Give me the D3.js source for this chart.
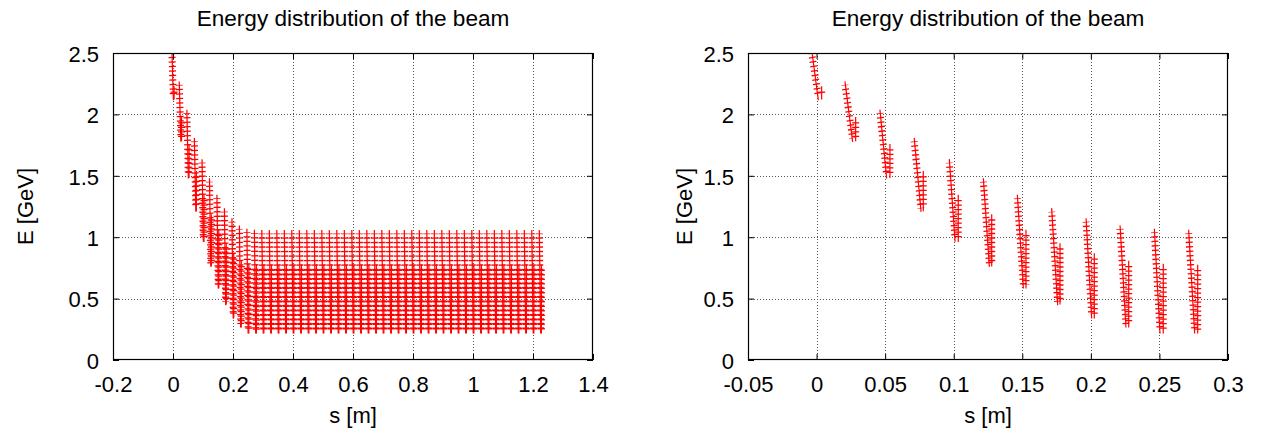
<!DOCTYPE html>
<html>
<head>
<meta charset="utf-8">
<script src="https://cdn.jsdelivr.net/npm/d3@7.9.0/dist/d3.min.js"></script>
<style>
  body { margin: 0; background: #fff; }
  svg { display: block; font-family: "Liberation Sans", Arial, sans-serif; }
</style>
</head>
<body>
<svg id="chart" width="1261" height="429"></svg>
<script>
// Axis ticks and labels
const yTicks = [0, 0.5, 1, 1.5, 2, 2.5];
const yTickLabels = ["0", "0.5", "1", "1.5", "2", "2.5"];
const leftXTicks = [-0.2, 0, 0.2, 0.4, 0.6, 0.8, 1, 1.2, 1.4];
const leftXTickLabels = ["-0.2", "0", "0.2", "0.4", "0.6", "0.8", "1", "1.2", "1.4"];
const rightXTicks = [-0.05, 0, 0.05, 0.1, 0.15, 0.2, 0.25, 0.3];
const rightXTickLabels = ["-0.05", "0", "0.05", "0.1", "0.15", "0.2", "0.25", "0.3"];

// First bunches: each one is a main streak (top -> bottom) plus a short second streak
const earlyTopS = [-0.0036, 0.0207, 0.0462, 0.0712, 0.0968, 0.1216, 0.1464, 0.1714, 0.1965, 0.2213, 0.2463, 0.2713];
const earlyTopE = [2.50, 2.24, 2.01, 1.78, 1.607, 1.452, 1.317, 1.208, 1.126, 1.067, 1.04, 1.032];
const earlyBotS = [0.0013, 0.0263, 0.0511, 0.0762, 0.1010, 0.1260, 0.1508, 0.1758, 0.2006, 0.2256, 0.2504, 0.2757];
const earlyBotE = [2.144, 1.805, 1.506, 1.235, 0.991, 0.787, 0.611, 0.475, 0.366, 0.293, 0.244, 0.244];
const earlySecS = [0.0037, 0.0285, 0.0535, 0.0778, 0.1033, 0.1277, 0.1527, 0.1775, 0.2025, 0.2276, 0.2528, 0.2779];
const earlySecTopE = [2.20, 1.95, 1.73, 1.51, 1.317, 1.159, 1.032, 0.923, 0.841, 0.779, 0.755, 0.747];
const earlySecBotE = [2.15, 1.81, 1.51, 1.24, 0.99, 0.79, 0.61, 0.48, 0.366, 0.293, 0.244, 0.244];

// Later bunches (left panel only) all keep the same shape
const steadyPos = [0.3, 0.325, 0.35, 0.375, 0.4, 0.425, 0.45, 0.475, 0.5, 0.525, 0.55, 0.575,
  0.6, 0.625, 0.65, 0.675, 0.7, 0.725, 0.75, 0.775, 0.8, 0.825, 0.85, 0.875, 0.9, 0.925,
  0.95, 0.975, 1.0, 1.025, 1.05, 1.075, 1.1, 1.125, 1.15, 1.175, 1.2, 1.225];
const steadyTopDs = -0.004, steadyBotDs = 0.0007, steadySecDs = 0.0029;
const steadyTopE = 1.03, steadyBotE = 0.244, steadySecTopE = 0.75, steadySecBotE = 0.244;

// streak lists built from the arrays above
let earlyStreaks = [];
earlyTopS.forEach((s, i) => {
  earlyStreaks.push({ s1: s, e1: earlyTopE[i], s2: earlyBotS[i], e2: earlyBotE[i], kind: "main" });
  earlyStreaks.push({ s1: earlySecS[i], e1: earlySecTopE[i], s2: earlySecS[i], e2: earlySecBotE[i], kind: "sec" });
});
let steadyStreaks = [];
steadyPos.forEach(p => {
  steadyStreaks.push({ s1: p + steadyTopDs, e1: steadyTopE, s2: p + steadyBotDs, e2: steadyBotE, kind: "main" });
  steadyStreaks.push({ s1: p + steadySecDs, e1: steadySecTopE, s2: p + steadySecDs, e2: steadySecBotE, kind: "sec" });
});

const FONT = 22;
const svg = d3.select("#chart");
svg.append("rect").attr("width", 1261).attr("height", 429).attr("fill", "#fff");

function drawPanel(id, x0, xDomain, xTicks, xLabels, yLabelX, streaks) {
  const top = 53, bottom = 360, width = 480;
  const x = d3.scaleLinear().domain(xDomain).range([x0, x0 + width]);
  const y = d3.scaleLinear().domain([0, 2.5]).range([bottom, top]);
  const g = svg.append("g");

  svg.append("clipPath").attr("id", "clip-" + id)
    .append("rect").attr("x", x0).attr("y", top).attr("width", width).attr("height", bottom - top);

  // dotted grid
  const grid = g.append("g").attr("stroke", "#555").attr("stroke-width", 1).attr("stroke-dasharray", "1,2");
  grid.selectAll(".gx").data(xTicks.slice(1, -1)).enter().append("line")
    .attr("x1", d => Math.round(x(d)) + 0.5).attr("x2", d => Math.round(x(d)) + 0.5)
    .attr("y1", top).attr("y2", bottom);
  grid.selectAll(".gy").data(yTicks.slice(1, -1)).enter().append("line")
    .attr("y1", d => Math.round(y(d)) + 0.5).attr("y2", d => Math.round(y(d)) + 0.5)
    .attr("x1", x0).attr("x2", x0 + width);

  // beam particles, drawn as rows of "+" markers
  const pts = g.append("g").attr("clip-path", `url(#clip-${id})`)
    .attr("fill", "none").attr("stroke", "#ff0000");
  pts.selectAll(".stem").data(streaks).enter().append("path")
    .attr("d", d => `M${x(d.s1)},${y(d.e1) - 3.5}L${x(d.s2)},${y(d.e2) + 3.5}`)
    .attr("stroke-width", 1.2);
  pts.selectAll(".bars").data(streaks).enter().append("path")
    .attr("d", d => `M${x(d.s1)},${y(d.e1)}L${x(d.s2)},${y(d.e2)}`)
    .attr("stroke-width", 7)
    .attr("stroke-dasharray", "1.3,3.2")
    .attr("stroke-dashoffset", d => d.kind === "main" ? 0.6 : 2.8);

  // axes with inward ticks on all four sides
  const bottomAxis = d3.axisBottom(x).tickValues(xTicks).tickFormat((d, i) => xLabels[i])
    .tickSize(-6).tickPadding(17);
  const leftAxis = d3.axisLeft(y).tickValues(yTicks).tickFormat((d, i) => yTickLabels[i])
    .tickSize(-6).tickPadding(14);
  const topAxis = d3.axisTop(x).tickValues(xTicks).tickFormat("").tickSize(-6);
  const rightAxis = d3.axisRight(y).tickValues(yTicks).tickFormat("").tickSize(-6);

  const axes = [
    g.append("g").attr("transform", `translate(0,${bottom})`).call(bottomAxis),
    g.append("g").attr("transform", `translate(${x0},0)`).call(leftAxis),
    g.append("g").attr("transform", `translate(0,${top})`).call(topAxis),
    g.append("g").attr("transform", `translate(${x0 + width},0)`).call(rightAxis)
  ];
  axes.forEach(a => {
    a.select(".domain").remove();
    a.selectAll(".tick line").attr("stroke", "#000");
    a.selectAll("text").attr("font-size", FONT).attr("fill", "#000")
      .attr("font-family", "'Liberation Sans', Arial, sans-serif");
  });
  axes[0].selectAll("text").attr("dy", "0.68em");
  axes[1].selectAll("text").attr("dy", "0.38em");

  g.append("rect").attr("x", x0 + 0.5).attr("y", top + 0.5)
    .attr("width", width - 1).attr("height", bottom - top - 1)
    .attr("fill", "none").attr("stroke", "#000").attr("stroke-width", 1.2);

  // titles
  g.append("text").attr("x", x0 + width / 2).attr("y", 26)
    .attr("text-anchor", "middle").attr("font-size", 22.6)
    .text("Energy distribution of the beam");
  g.append("text").attr("x", x0 + width / 2).attr("y", 423)
    .attr("text-anchor", "middle").attr("font-size", FONT)
    .text("s [m]");
  g.append("text").attr("transform", `translate(${yLabelX},${(top + bottom) / 2}) rotate(-90)`)
    .attr("text-anchor", "middle").attr("font-size", FONT)
    .text("E [GeV]");
}

drawPanel("left", 113, [-0.2, 1.4], leftXTicks, leftXTickLabels, 33, earlyStreaks.concat(steadyStreaks));
drawPanel("right", 748, [-0.05, 0.3], rightXTicks, rightXTickLabels, 692, earlyStreaks);
</script>
</body>
</html>
